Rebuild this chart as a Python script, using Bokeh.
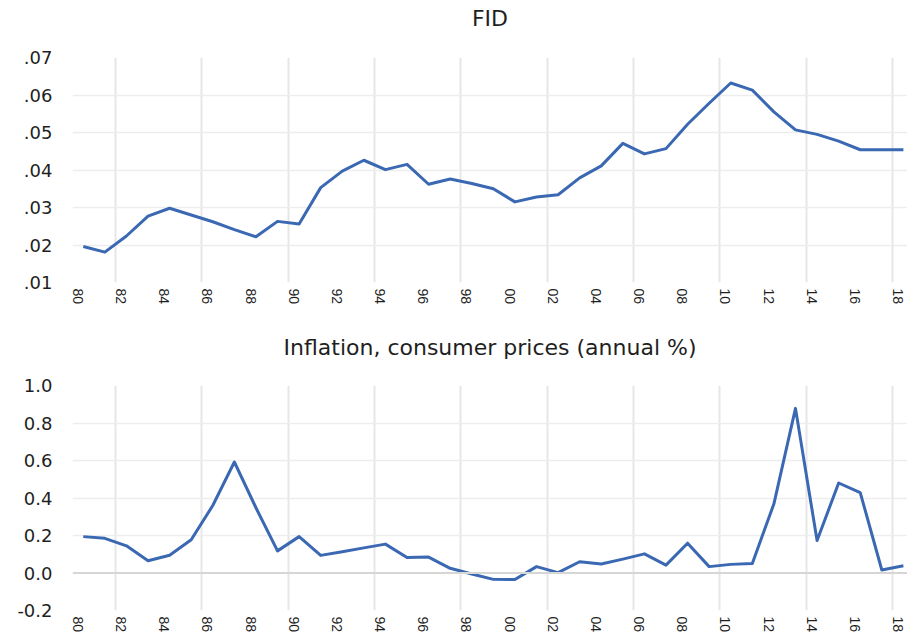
from bokeh.plotting import figure
from bokeh.layouts import column
from bokeh.models import FixedTicker, CustomJSTickFormatter, Range1d, Span, Title
from bokeh.embed import file_html
from bokeh.resources import INLINE

# ---- data ----
years = list(range(1980, 2019))
fid = [0.0196, 0.0181, 0.0224, 0.0277, 0.0298, 0.0280, 0.0262, 0.0241, 0.0222, 0.0263,
       0.0256, 0.0353, 0.0397, 0.0426, 0.0401, 0.0415, 0.0362, 0.0376, 0.0364, 0.0350,
       0.0315, 0.0328, 0.0334, 0.0379, 0.0411, 0.0471, 0.0443, 0.0457, 0.0522, 0.0578,
       0.0632, 0.0613, 0.0555, 0.0507, 0.0495, 0.0477, 0.0454, 0.0454, 0.0454]
inflation = [0.194, 0.185, 0.145, 0.065, 0.095, 0.177, 0.360, 0.592, 0.348, 0.118,
             0.194, 0.094, 0.113, 0.134, 0.154, 0.083, 0.085, 0.025, -0.005, -0.034,
             -0.035, 0.034, 0.002, 0.060, 0.048, 0.074, 0.102, 0.042, 0.159, 0.034,
             0.046, 0.051, 0.369, 0.878, 0.173, 0.480, 0.429, 0.016, 0.039]
titles = ["FID", "Inflation, consumer prices (annual %)"]
fid_ticks = [0.01, 0.02, 0.03, 0.04, 0.05, 0.06, 0.07]
infl_ticks = [-0.2, 0.0, 0.2, 0.4, 0.6, 0.8, 1.0]
label_years = list(range(1980, 2019, 2))
grid_years = list(range(1982, 2019, 4))

LINE = "#3A68B2"
TXT = "#1F1F1F"


def make(title, values, yticks, fmt, height, top, bottom, gap, zero=False):
    p = figure(width=907, height=height, output_backend="svg", toolbar_location=None,
               x_range=Range1d(1979.5, 2018.19), y_range=Range1d(yticks[0], yticks[-1]),
               min_border_left=72, min_border_right=0, min_border_top=top,
               min_border_bottom=bottom, outline_line_color=None)
    p.title.text = title
    p.title.align = "center"
    p.title.vertical_align = "bottom"
    p.title.standoff = 0
    p.title.text_font = "DejaVu Sans"
    p.title.text_font_size = "22px"
    p.title.text_font_style = "normal"
    p.title.text_color = TXT
    # empty spacer panel between the title and the plot area
    p.add_layout(Title(text=" ", text_font_size="10px", standoff=gap), "above")

    # x axis
    p.xaxis.ticker = FixedTicker(ticks=[y - 0.25 for y in label_years])
    p.xaxis.formatter = CustomJSTickFormatter(
        code="const y = Math.round(tick + 0.25); return String(y % 100).padStart(2, '0');")
    p.xaxis.major_label_orientation = "vertical"
    p.xaxis.major_label_text_font = "Liberation Sans"
    p.xaxis.major_label_text_font_size = "14px"
    p.xaxis.major_label_text_color = TXT
    p.xaxis.major_label_standoff = 6
    p.xaxis.major_tick_out = 0
    p.xaxis.major_tick_in = 0
    p.xaxis.axis_line_color = None
    p.xaxis.major_tick_line_color = None
    p.xaxis.minor_tick_line_color = None

    # y axis
    p.yaxis.ticker = FixedTicker(ticks=yticks)
    p.yaxis.formatter = CustomJSTickFormatter(code=fmt)
    p.yaxis.major_label_text_font = "DejaVu Sans"
    p.yaxis.major_label_text_font_size = "18px"
    p.yaxis.major_label_text_color = TXT
    p.yaxis.major_label_standoff = 14
    p.yaxis.axis_line_color = None
    p.yaxis.major_tick_line_color = None
    p.yaxis.minor_tick_line_color = None

    # grids
    p.xgrid.ticker = FixedTicker(ticks=[y - 0.5 for y in grid_years])
    p.xgrid.grid_line_color = "#E6E6E6"
    p.xgrid.grid_line_width = 2
    inner = [t for t in yticks[1:-1] if not (zero and abs(t) < 1e-9)]
    p.ygrid.ticker = FixedTicker(ticks=inner)
    p.ygrid.grid_line_color = "#EDEDED"
    p.ygrid.grid_line_width = 1.5
    if zero:
        p.add_layout(Span(location=0, dimension="width", line_color="#D6D6D6", line_width=2))

    p.line(years, values, line_color=LINE, line_width=3, line_join="round")
    return p


p1 = make(titles[0], fid, fid_ticks,
          "return tick.toFixed(2).replace(/^0/, '');", 318, 57, 36, 14)
p2 = make(titles[1], inflation, infl_ticks,
          "return tick.toFixed(1);", 317, 67, 23, 13, zero=True)

layout = column(p1, p2, spacing=0)
open("out.html", "w").write(file_html(layout, INLINE))
